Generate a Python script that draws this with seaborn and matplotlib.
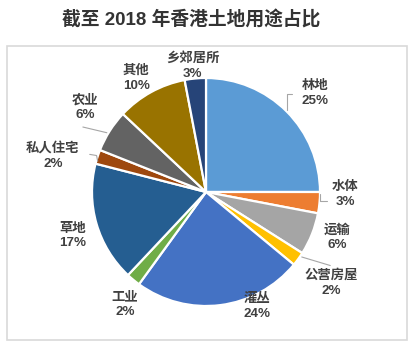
import matplotlib
matplotlib.use("Agg")
import matplotlib.pyplot as plt
import seaborn as sns
import numpy as np

# Land use categories and their shares (%)
categories = ["林地", "水体", "运输", "公营房屋", "灌丛", "工业",
              "草地", "私人住宅", "农业", "其他", "乡郊居所"]
shares = [25, 3, 6, 2, 24, 2, 17, 2, 6, 10, 3]
title = "截至 2018 年香港土地用途占比"

slice_colors = ["#5B9BD5", "#ED7D31", "#A5A5A5", "#FFC000", "#4472C4", "#70AD47",
                "#255E91", "#9E480E", "#636363", "#997300", "#264478"]

# label placement: radial distance and angular nudge (degrees) from the slice middle
label_radius = [1.29, 1.22, 1.22, 1.36, 1.10, 1.22, 1.23, 1.38, 1.29, 1.17, 1.11]
label_nudge = [-3.0, 4.4, 2.6, 0.0, 16.8, 4.0, 2.1, 4.8, -2.6, 2.8, 0.6]

# leader lines (pie units) for labels sitting away from their slice
leaders = {
    "林地": [(0.71, 0.72), (0.71, 0.86), (0.755, 0.86)],
    "水体": [(1.0, -0.02), (1.0, -0.08), (1.06, -0.08)],
    "公营房屋": [(0.84, -0.57), (1.09, -0.645)],
    "农业": [(-0.87, 0.52), (-1.08, 0.57)],
    "私人住宅": [(-0.95, 0.27), (-0.96, 0.32), (-1.02, 0.33)],
}

sns.set_theme(style="white")
# Latin digits in an Arial-like face, Chinese from Noto CJK
plt.rcParams["font.family"] = ["Liberation Sans", "Noto Sans CJK SC", "DejaVu Sans"]

W, H = 415, 348
fig = plt.figure(figsize=(W / 100, H / 100), dpi=100)
fig.patch.set_facecolor("white")

# chart area frame
fig.add_artist(plt.Rectangle((7 / W, 8 / H), 400 / W, 294 / H,
                             transform=fig.transFigure, fill=False,
                             edgecolor="#D9D9D9", linewidth=1.2))

fig.text(191 / W, 1 - 20 / H, title, ha="center", va="center",
         fontsize=13.5, fontweight="bold", color="#333333")

ax = fig.add_axes([92 / W, 42 / H, 228 / W, 228 / H])
palette = sns.color_palette(slice_colors)
ax.pie(shares, colors=palette, startangle=90, counterclock=False, radius=1,
       wedgeprops=dict(edgecolor="white", linewidth=1.6))
ax.set_xlim(-1, 1)
ax.set_ylim(-1, 1)
ax.set_aspect("equal")
ax.axis("off")

vals = np.array(shares, dtype=float)
starts = np.cumsum(vals) - vals
mids = 90 - 360 * (starts + vals / 2) / vals.sum()

for name, v, m, r, dn in zip(categories, shares, mids, label_radius, label_nudge):
    a = np.deg2rad(m + dn)
    ax.text(r * np.cos(a), r * np.sin(a), f"{name}\n{v}%", ha="center", va="center",
            multialignment="center", fontsize=9.6, fontweight="bold",
            color="#404040", linespacing=1.3, clip_on=False)

for name, pts in leaders.items():
    xs, ys = zip(*pts)
    ax.plot(xs, ys, color="#A6A6A6", linewidth=0.8, clip_on=False)

fig.savefig("out.png", dpi=100, facecolor="white")
